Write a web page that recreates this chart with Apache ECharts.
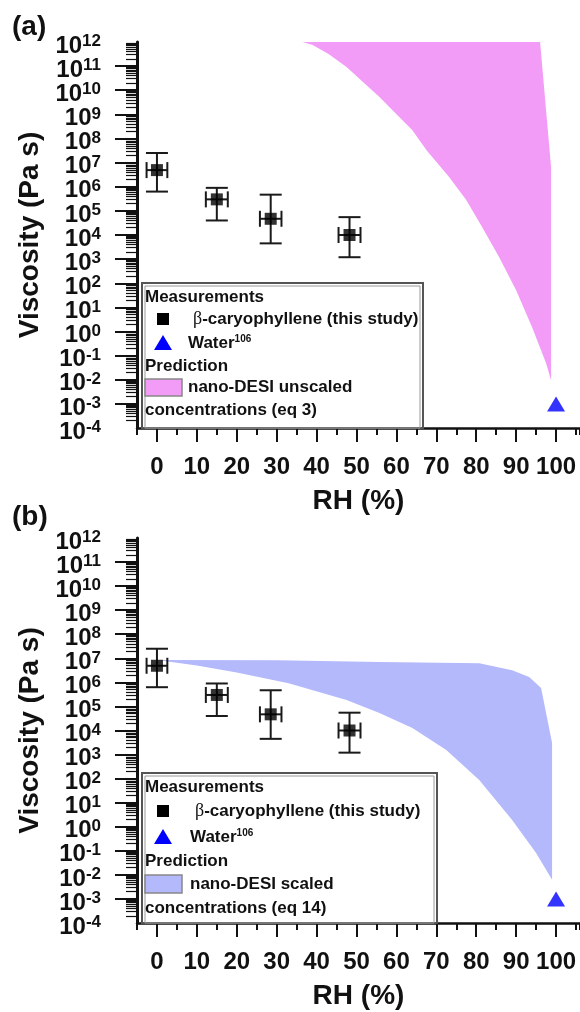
<!DOCTYPE html>
<html><head><meta charset="utf-8">
<script src="https://cdn.jsdelivr.net/npm/echarts@6/dist/echarts.min.js"></script>
<style>html,body{margin:0;padding:0;background:#fff}#c{width:580px;height:1012px}</style>
</head><body><div id="c"></div>
<script>
// ---------- data ----------
const rhMeas   = [0, 15, 28.5, 48.25];
const viscMeas = [4.9e6, 3.0e5, 4.7e4, 1.0e4];
const viscLow  = [6.3e5, 4.0e4, 4.5e3, 1.2e3];
const viscHigh = [2.5e7, 9.0e5, 4.7e5, 5.5e4];
const rhErr    = [2.6, 2.75, 2.7, 2.75];
const rhWater   = [100];
const viscWater = [1e-3];

// (a) nano-DESI unscaled prediction band
const bandA_rhUpper   = [0, 96, 98.75, 98.75];
const bandA_viscUpper = [1e12, 1e12, 6.5e6, 9.5e-3];
const bandA_rhLower   = [0, 36.5, 39, 43, 47.5, 55.75, 64, 67.5, 73.25, 77.5, 81.5, 85.75, 90, 94, 97.5, 98.75];
const bandA_viscLower = [1e12, 1e12, 7.6e11, 3.2e11, 9.1e10, 5.2e9, 2.2e8, 3.3e7, 2.5e6, 2.8e5, 2.1e4, 1.2e3, 51, 1.5, 0.048, 9.5e-3];

// (b) nano-DESI scaled prediction band
const bandB_rhUpper   = [0, 30, 55.75, 80.75, 89, 93.25, 96.25, 97.5, 99, 99];
const bandB_viscUpper = [8.5e6, 8.3e6, 7.1e6, 6.3e6, 3.2e6, 1.66e6, 5.9e5, 5.4e4, 3.0e3, 6.3e-3];
const bandB_rhLower   = [0, 10, 20, 33, 47.5, 55.75, 64, 72.5, 80.75, 89, 95, 99];
const bandB_viscLower = [8.5e6, 5.0e6, 2.6e6, 9.3e5, 1.86e5, 5.4e4, 1.26e4, 1.55e3, 87, 1.9, 0.081, 6.3e-3];

const xMajorTicks = [0, 10, 20, 30, 40, 50, 60, 70, 80, 90, 100];
const yExponents  = [-4, -3, -2, -1, 0, 1, 2, 3, 4, 5, 6, 7, 8, 9, 10, 11, 12];

// ---------- style ----------
const FONT = "'Liberation Sans', Arial, sans-serif";
const INK = '#111';
const PINK = '#f29cf7';
const BLUE = '#b3b9fb';

// minor log tick positions (in exponent space)
const yMinor = [];
for (let n = yExponents[0]; n < yExponents[yExponents.length - 1]; n++) {
  for (let k = 2; k <= 9; k++) yMinor.push(n + Math.log10(k));
}
const yEnds = [yExponents[0], yExponents[yExponents.length - 1]];

const grids = [
  {left: 137, top: 42, height: 386, right: 0},
  {left: 137, top: 538, height: 385, right: 0}
];

const labelRich = {
  b: {fontFamily: FONT, fontWeight: 'bold', fontSize: 24, lineHeight: 16, verticalAlign: 'top', color: INK},
  s: {fontFamily: FONT, fontWeight: 'bold', fontSize: 17, lineHeight: 12, verticalAlign: 'bottom', color: INK}
};
const powLabel = (e) => '{b|10}{s|' + e + '}';

const xAxes = [], yAxes = [], series = [];

function bandSeries(g, xU, yU, xL, yL, color) {
  return {
    type: 'custom', xAxisIndex: g * 2, yAxisIndex: g * 2, z: 1, silent: true,
    encode: {x: 0, y: 1},
    data: xU.map((x, i) => [x, yU[i]]),
    renderItem: function (params, api) {
      if (params.dataIndex !== 0) return null;
      const pts = [];
      for (let i = 0; i < xU.length; i++) pts.push(api.coord([xU[i], yU[i]]));
      for (let i = xL.length - 1; i >= 0; i--) pts.push(api.coord([xL[i], yL[i]]));
      return {type: 'polygon', shape: {points: pts}, style: {fill: color, stroke: null}};
    }
  };
}

function errSeries(g) {
  return {
    type: 'custom', xAxisIndex: g * 2, yAxisIndex: g * 2, z: 3, silent: true,
    encode: {x: 0, y: 1},
    data: rhMeas.map((x, i) => [x, viscMeas[i], viscLow[i], viscHigh[i], rhErr[i]]),
    renderItem: function (params, api) {
      const x = api.value(0), y = api.value(1), lo = api.value(2), hi = api.value(3), xe = api.value(4);
      const c = api.coord([x, y]);
      const pLo = api.coord([x, lo]), pHi = api.coord([x, hi]);
      const pL = api.coord([x - xe, y]), pR = api.coord([x + xe, y]);
      const cw = 11, ch = 8;
      const st = {stroke: '#1a1a1a', lineWidth: 2, fill: null};
      const L = (x1, y1, x2, y2) => ({type: 'line', shape: {x1, y1, x2, y2}, style: st});
      return {type: 'group', children: [
        L(c[0], pHi[1], c[0], pLo[1]),
        L(c[0] - cw, pHi[1], c[0] + cw, pHi[1]),
        L(c[0] - cw, pLo[1], c[0] + cw, pLo[1]),
        L(pL[0], c[1], pR[0], c[1]),
        L(pL[0], c[1] - ch, pL[0], c[1] + ch),
        L(pR[0], c[1] - ch, pR[0], c[1] + ch)
      ]};
    }
  };
}

for (let g = 0; g < 2; g++) {
  xAxes.push({
    type: 'value', gridIndex: g, position: 'bottom', min: -5, max: 106, interval: 5,
    name: 'RH (%)', nameLocation: 'middle', nameGap: 59,
    nameTextStyle: {fontFamily: FONT, fontWeight: 'bold', fontSize: 28, color: INK},
    axisLine: {show: true, onZero: false, lineStyle: {color: INK, width: 2.5}},
    axisTick: {show: true, inside: false, length: 14, customValues: xMajorTicks, lineStyle: {color: INK, width: 2}},
    axisLabel: {show: true, customValues: xMajorTicks, margin: 27, fontFamily: FONT, fontWeight: 'bold', fontSize: 24, color: INK},
    splitLine: {show: false}
  });
  xAxes.push({
    type: 'value', gridIndex: g, position: 'bottom', min: -5, max: 106, interval: 5,
    axisLine: {show: false, onZero: false},
    axisTick: {show: true, inside: false, length: 7, lineStyle: {color: INK, width: 2}},
    axisLabel: {show: false},
    splitLine: {show: false}
  });
  yAxes.push({
    type: 'log', logBase: 10, gridIndex: g, position: 'left', min: 1e-4, max: 1e12, interval: 1,
    name: 'Viscosity (Pa s)', nameLocation: 'middle', nameGap: 78,
    nameTextStyle: {fontFamily: FONT, fontWeight: 'bold', fontSize: 28, color: INK},
    axisLine: {show: true, onZero: false, lineStyle: {color: INK, width: 3}},
    axisTick: {show: true, inside: false, length: 22, lineStyle: {color: INK, width: 2}},
    axisLabel: {
      show: true, margin: 36, showMinLabel: false, showMaxLabel: false,
      formatter: function (v) { return powLabel(Math.round(Math.log10(v))); },
      rich: labelRich
    },
    splitLine: {show: false}
  });
  yAxes.push({
    type: 'value', gridIndex: g, position: 'left', min: yEnds[0], max: yEnds[1],
    axisLine: {show: false, onZero: false},
    axisTick: {show: true, inside: false, length: 11, customValues: yMinor, lineStyle: {color: INK, width: 1.2}},
    axisLabel: {show: true, margin: 36, customValues: yEnds, showMinLabel: true, showMaxLabel: true,
      formatter: function (v) { return powLabel(v); }, rich: labelRich},
    splitLine: {show: false}
  });
}

series.push(bandSeries(0, bandA_rhUpper, bandA_viscUpper, bandA_rhLower, bandA_viscLower, PINK));
series.push(bandSeries(1, bandB_rhUpper, bandB_viscUpper, bandB_rhLower, bandB_viscLower, BLUE));
for (let g = 0; g < 2; g++) {
  series.push(errSeries(g));
  series.push({
    type: 'scatter', xAxisIndex: g * 2, yAxisIndex: g * 2, z: 4, silent: true,
    symbol: 'rect', symbolSize: 12, itemStyle: {color: '#000'},
    data: rhMeas.map((x, i) => [x, viscMeas[i]])
  });
  series.push({
    type: 'scatter', xAxisIndex: g * 2, yAxisIndex: g * 2, z: 4, silent: true,
    symbol: 'triangle', symbolSize: [18, 15], itemStyle: {color: '#0000ff'},
    data: rhWater.map((x, i) => [x, viscWater[i]])
  });
}

// ---------- legends (graphic) ----------
function legend(L) {
  const t = (x, y, text, extra) => Object.assign({
    type: 'text', x: x, y: y, z: 100,
    style: Object.assign({text: text, fontFamily: FONT, fontWeight: 'bold', fontSize: 17, fill: INK, align: 'left', verticalAlign: 'middle'}, extra || {})
  });
  return [
    {type: 'rect', z: 90, shape: {x: L.bx, y: L.by, width: L.bw, height: L.bh}, style: {fill: '#fff', stroke: '#555', lineWidth: 2}},
    {type: 'rect', z: 91, shape: {x: L.bx + 3, y: L.by + 3, width: L.bw - 6, height: L.bh - 3}, style: {fill: null, stroke: '#999', lineWidth: 1}},
    t(145, L.y[0], 'Measurements'),
    {type: 'rect', z: 100, shape: {x: 157, y: L.y[1] - 6, width: 12, height: 12}, style: {fill: '#000'}},
    t(L.tx1, L.y[1], '{g|β}{n|-caryophyllene (this study)}', {rich: {
      g: {fontFamily: "'Liberation Serif', 'DejaVu Serif', serif", fontSize: 18, fontWeight: 'normal', fill: INK, color: INK},
      n: {fontFamily: FONT, fontWeight: 'bold', fontSize: 17, color: INK}
    }}),
    {type: 'polygon', z: 100, shape: {points: [[154, L.y[2] + 7], [172, L.y[2] + 7], [163, L.y[2] - 8]]}, style: {fill: '#0000ff'}},
    t(L.tx2, L.y[2], '{n|Water}{s|106}', {rich: {
      n: {fontFamily: FONT, fontWeight: 'bold', fontSize: 17, lineHeight: 17, verticalAlign: 'bottom', padding: [4, 0, 0, 0], color: INK},
      s: {fontFamily: FONT, fontWeight: 'bold', fontSize: 10, lineHeight: 10, verticalAlign: 'top', color: INK}
    }}),
    t(145, L.y[3], 'Prediction'),
    {type: 'rect', z: 100, shape: {x: 145, y: L.sy, width: 37, height: L.sh}, style: {fill: L.color, stroke: '#888', lineWidth: 1.5}},
    t(L.tx2, L.y[4], L.pred),
    t(145, L.y[5], L.conc)
  ];
}

const graphics = [
  {type: 'text', x: 12, y: 27, z: 100, style: {text: '(a)', fontFamily: FONT, fontWeight: 'bold', fontSize: 28, fill: INK, verticalAlign: 'middle'}},
  {type: 'text', x: 12, y: 517, z: 100, style: {text: '(b)', fontFamily: FONT, fontWeight: 'bold', fontSize: 28, fill: INK, verticalAlign: 'middle'}}
].concat(
  legend({bx: 142, by: 283, bw: 281, bh: 145, y: [297, 319, 343, 366, 387, 410], sy: 379, sh: 17, tx1: 193, tx2: 188, color: PINK,
          pred: 'nano-DESI unscaled', conc: 'concentrations (eq 3)'}),
  legend({bx: 142, by: 773, bw: 295, bh: 150, y: [787, 811, 837, 861, 884, 908], sy: 875, sh: 18, tx1: 195, tx2: 190, color: BLUE,
          pred: 'nano-DESI scaled', conc: 'concentrations (eq 14)'})
);

const chart = echarts.init(document.getElementById('c'), null, {renderer: 'canvas'});
chart.setOption({
  animation: false,
  backgroundColor: '#fff',
  grid: grids,
  xAxis: xAxes,
  yAxis: yAxes,
  series: series,
  graphic: graphics
});
</script>
</body></html>
